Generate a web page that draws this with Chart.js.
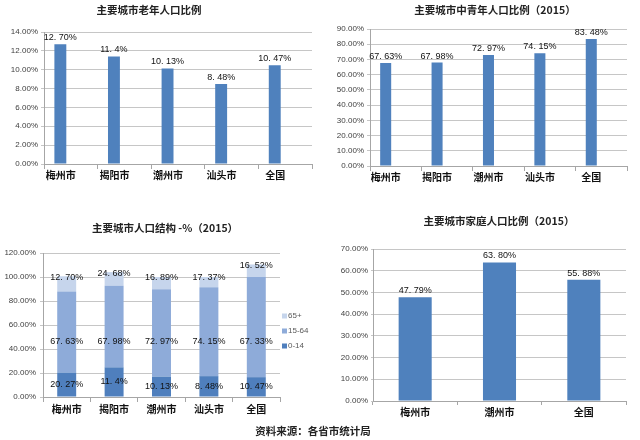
<!DOCTYPE html>
<html>
<head>
<meta charset="utf-8">
<script src="https://cdn.jsdelivr.net/npm/chart.js@4.4.1/dist/chart.umd.min.js"></script>
<style>
  html, body { margin: 0; padding: 0; background: #fff; }
  body { width: 640px; height: 440px; position: relative; overflow: hidden; }
  canvas { position: absolute; }
  #footer { position: absolute; left: 0; width: 626px; top: 423px; text-align: center;
    font: bold 10.5px "Noto Sans CJK SC", sans-serif; color: #222; line-height: 16px; }
</style>
</head>
<body>
<canvas id="c1" width="320" height="200" style="left:0;top:0"></canvas>
<canvas id="c2" width="320" height="200" style="left:320px;top:0"></canvas>
<canvas id="c3" width="320" height="225" style="left:0;top:200px"></canvas>
<canvas id="c4" width="320" height="225" style="left:320px;top:200px"></canvas>
<div id="footer">资料来源：各省市统计局</div>
<script>
// ---- data ----
const cities5 = ['梅州市', '揭阳市', '潮州市', '汕头市', '全国'];
const elderlyPct = [12.70, 11.4, 10.13, 8.48, 10.47];
const elderlyText = ['12. 70%', '11. 4%', '10. 13%', '8. 48%', '10. 47%'];
const workingPct = [67.63, 67.98, 72.97, 74.15, 83.48];
const workingText = ['67. 63%', '67. 98%', '72. 97%', '74. 15%', '83. 48%'];
const age0to14 = [20.27, 24.68, 16.89, 17.37, 16.52];
const age15to64 = [67.63, 67.98, 72.97, 74.15, 83.48];
const age65plus = [12.70, 11.4, 10.13, 8.48, 10.47];
const label0to14 = ['20. 27%', '11. 4%', '10. 13%', '8. 48%', '10. 47%'];
const label15to64 = ['67. 63%', '67. 98%', '72. 97%', '74. 15%', '67. 33%'];
const label65plus = ['12. 70%', '24. 68%', '16. 89%', '17. 37%', '16. 52%'];
const cities3 = ['梅州市', '潮州市', '全国'];
const householdPct = [47.79, 63.80, 55.88];
const householdText = ['47. 79%', '63. 80%', '55. 88%'];
const titles = ['主要城市老年人口比例', '主要城市中青年人口比例（2015）', '主要城市人口结构 -%（2015）', '主要城市家庭人口比例（2015）'];

// ---- styling ----
const NUM = '"Liberation Sans", Arial, sans-serif';
const CJK = '"Noto Sans CJK SC", sans-serif';
const BLUE = '#4f81bd';
const GRID = '#c6c6c6';
const AXIS = '#a6a6a6';

const panelTitle = {
  id: 'panelTitle',
  afterDraw(chart, args, o) {
    const ctx = chart.ctx;
    ctx.save();
    ctx.font = 'bold 10.5px ' + CJK;
    ctx.fillStyle = '#222';
    ctx.textAlign = 'center';
    ctx.textBaseline = 'middle';
    ctx.fillText(o.text, o.x, o.y);
    ctx.restore();
  }
};

const barLabels = {
  id: 'barLabels',
  afterDatasetsDraw(chart, args, o) {
    const ctx = chart.ctx;
    ctx.save();
    ctx.font = '9px ' + NUM;
    ctx.fillStyle = '#111';
    ctx.textAlign = 'center';
    (o.items || []).forEach(item => {
      const meta = chart.getDatasetMeta(item.dataset);
      meta.data.forEach((bar, i) => {
        let y;
        if (item.place === 'top') { ctx.textBaseline = 'bottom'; y = bar.y - 2; }
        else if (item.place === 'center') { ctx.textBaseline = 'middle'; y = (bar.y + bar.base) / 2; }
        else if (item.place === 'edge') { ctx.textBaseline = 'middle'; y = bar.y + 1; }
        else { ctx.textBaseline = 'middle'; y = chart.scales.y.getPixelForValue(item.place); }
        ctx.fillText(item.texts[i], bar.x, y);
      });
    });
    ctx.restore();
  }
};

// simple right-side legend (reverse order) drawn from the datasets
const sideLegend = {
  id: 'sideLegend',
  afterDraw(chart, args, o) {
    if (!o.show) return;
    const ctx = chart.ctx;
    ctx.save();
    ctx.font = '8px ' + NUM;
    ctx.textAlign = 'left';
    ctx.textBaseline = 'middle';
    const ds = chart.data.datasets.slice().reverse();
    ds.forEach((d, i) => {
      const y = o.y + i * o.step;
      ctx.fillStyle = d.backgroundColor;
      ctx.fillRect(o.x, y - 2.5, 5, 5);
      ctx.fillStyle = '#595959';
      ctx.fillText(d.label, o.x + 6, y);
    });
    ctx.restore();
  }
};

function yAxis(max, step, width, tickLen, pad, stacked) {
  return {
    stacked: !!stacked, min: 0, max: max,
    ticks: { stepSize: step, callback: v => Number(v).toFixed(2) + '%', font: { family: NUM, size: 8 }, color: '#404040', padding: pad },
    grid: { color: GRID, tickLength: tickLen, drawTicks: true },
    border: { display: true, color: AXIS },
    afterFit(s) { s.width = width; }
  };
}
function xAxis(height, tickLen, pad, labelOffset, stacked) {
  return {
    stacked: !!stacked, offset: true,
    ticks: { font: { family: CJK, size: 10, weight: 'bold' }, color: '#111', padding: pad, labelOffset: labelOffset, maxRotation: 0, autoSkip: false },
    grid: { display: true, drawOnChartArea: false, drawTicks: true, tickLength: tickLen, offset: true, color: AXIS },
    border: { display: true, color: AXIS },
    afterFit(s) { s.height = height; }
  };
}
function baseOptions(padding, scales, plugins) {
  return {
    responsive: false, animation: false, devicePixelRatio: 1,
    layout: { padding: padding },
    scales: scales,
    plugins: Object.assign({ legend: { display: false }, tooltip: { enabled: false }, title: { display: false } }, plugins)
  };
}

// Chart 1
new Chart(document.getElementById('c1'), {
  type: 'bar',
  data: { labels: cities5, datasets: [
    { label: '老年人口比例', data: elderlyPct, backgroundColor: BLUE, categoryPercentage: 0.78, barPercentage: 0.57 },
    { label: '', data: [], backgroundColor: BLUE, categoryPercentage: 0.78, barPercentage: 0.57 }
  ] },
  options: baseOptions({ top: 32, right: 8, left: 0, bottom: 0 },
    { x: xAxis(36, 5, 0, -10), y: yAxis(14, 2, 44, 3, 3) },
    { panelTitle: { text: titles[0], x: 149, y: 10 },
      barLabels: { items: [{ dataset: 0, texts: elderlyText, place: 'top' }] } }),
  plugins: [panelTitle, barLabels]
});

// Chart 2
new Chart(document.getElementById('c2'), {
  type: 'bar',
  data: { labels: cities5, datasets: [
    { label: '中青年人口比例', data: workingPct, backgroundColor: BLUE, categoryPercentage: 0.78, barPercentage: 0.55 },
    { label: '', data: [], backgroundColor: BLUE, categoryPercentage: 0.78, barPercentage: 0.55 }
  ] },
  options: baseOptions({ top: 29, right: 13, left: 0, bottom: 0 },
    { x: xAxis(34, 5, 0, -10), y: yAxis(90, 10, 50, 3, 3) },
    { panelTitle: { text: titles[1], x: 175, y: 10 },
      barLabels: { items: [{ dataset: 0, texts: workingText, place: 'top' }] } }),
  plugins: [panelTitle, barLabels]
});

// Chart 3
new Chart(document.getElementById('c3'), {
  type: 'bar',
  data: { labels: cities5, datasets: [
    { label: '0-14', data: age0to14, backgroundColor: '#4f7fbd', categoryPercentage: 0.8, barPercentage: 0.5 },
    { label: '15-64', data: age15to64, backgroundColor: '#8eabd9', categoryPercentage: 0.8, barPercentage: 0.5 },
    { label: '65+', data: age65plus, backgroundColor: '#c6d5ec', categoryPercentage: 0.8, barPercentage: 0.5 }
  ] },
  options: baseOptions({ top: 53, right: 40, left: 0, bottom: 0 },
    { x: xAxis(28, 5, 1, 0, true), y: yAxis(120, 20, 43, 3, 4, true) },
    { sideLegend: { show: true, x: 282, y: 116, step: 15 },
      panelTitle: { text: titles[2], x: 165, y: 28 },
      barLabels: { items: [
        { dataset: 0, texts: label0to14, place: 'center' },
        { dataset: 1, texts: label15to64, place: 46.5 },
        { dataset: 2, texts: label65plus, place: 'edge' }
      ] } }),
  plugins: [panelTitle, barLabels, sideLegend]
});

// Chart 4
new Chart(document.getElementById('c4'), {
  type: 'bar',
  data: { labels: cities3, datasets: [
    { label: '家庭人口比例', data: householdPct, backgroundColor: BLUE, categoryPercentage: 0.8, barPercentage: 0.49 }
  ] },
  options: baseOptions({ top: 49, right: 14, left: 0, bottom: 0 },
    { x: xAxis(24, 4, 1, 0), y: yAxis(70, 10, 53, 2, 3) },
    { panelTitle: { text: titles[3], x: 179, y: 21 },
      barLabels: { items: [{ dataset: 0, texts: householdText, place: 'top' }] } }),
  plugins: [panelTitle, barLabels]
});
</script>
</body>
</html>
